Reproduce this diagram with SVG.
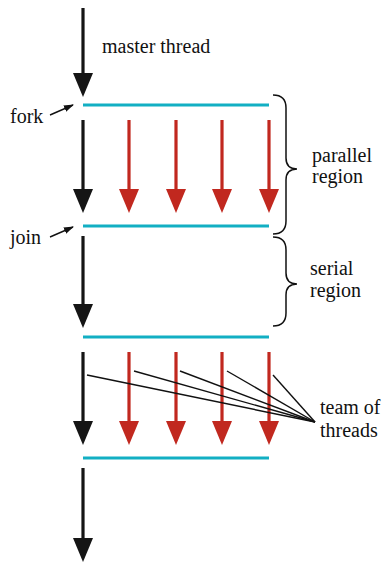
<svg xmlns="http://www.w3.org/2000/svg" width="385" height="563" viewBox="0 0 385 563">
<style>
.blk{stroke:#151515;stroke-width:3.2;fill:none}
.red{stroke:#c1281f;stroke-width:3.2;fill:none}
.cy{stroke:#12afc3;stroke-width:3.2;fill:none}
.thin{stroke:#111;stroke-width:1.4;fill:none}
.br{stroke:#111;stroke-width:1.5;fill:none}
</style>
<defs>
<marker id="hb" markerUnits="userSpaceOnUse" viewBox="0 0 24 20" refX="12" refY="10" markerWidth="24" markerHeight="20" orient="auto"><path d="M0,0 L24,10 L0,20 z" fill="#151515"/></marker>
<marker id="hr" markerUnits="userSpaceOnUse" viewBox="0 0 24 20" refX="12" refY="10" markerWidth="24" markerHeight="20" orient="auto"><path d="M0,0 L24,10 L0,20 z" fill="#c1281f"/></marker>
<marker id="hs" markerUnits="userSpaceOnUse" viewBox="0 0 10 7" refX="9" refY="3.5" markerWidth="10" markerHeight="7" orient="auto"><path d="M0,0 L10,3.5 L0,7 z" fill="#111"/></marker>
</defs>
<g id="connectors">
<line class="blk" x1="83" y1="8" x2="83" y2="85" marker-end="url(#hb)"/>
<line class="blk" x1="83" y1="120" x2="83" y2="201" marker-end="url(#hb)"/>
<line class="blk" x1="83" y1="236" x2="83" y2="316" marker-end="url(#hb)"/>
<line class="blk" x1="83" y1="352" x2="83" y2="433" marker-end="url(#hb)"/>
<line class="blk" x1="83" y1="468" x2="83" y2="550" marker-end="url(#hb)"/>
<line class="red" x1="129" y1="120" x2="129" y2="201" marker-end="url(#hr)"/>
<line class="red" x1="176" y1="120" x2="176" y2="201" marker-end="url(#hr)"/>
<line class="red" x1="222" y1="120" x2="222" y2="201" marker-end="url(#hr)"/>
<line class="red" x1="269" y1="120" x2="269" y2="201" marker-end="url(#hr)"/>
<line class="red" x1="129" y1="352" x2="129" y2="433" marker-end="url(#hr)"/>
<line class="red" x1="176" y1="352" x2="176" y2="433" marker-end="url(#hr)"/>
<line class="red" x1="222" y1="352" x2="222" y2="433" marker-end="url(#hr)"/>
<line class="red" x1="269" y1="352" x2="269" y2="433" marker-end="url(#hr)"/>
<line class="thin" x1="50" y1="115" x2="73" y2="105" marker-end="url(#hs)"/>
<line class="thin" x1="50" y1="237" x2="73" y2="227" marker-end="url(#hs)"/>
<line class="thin" x1="87" y1="375" x2="315" y2="422"/>
<line class="thin" x1="134" y1="371" x2="315" y2="422"/>
<line class="thin" x1="180" y1="371" x2="315" y2="422"/>
<line class="thin" x1="227" y1="371" x2="315" y2="422"/>
<line class="thin" x1="273" y1="375" x2="315" y2="422"/>
</g>
<g id="bars">
<line class="cy" x1="83" y1="105" x2="269" y2="105"/>
<line class="cy" x1="83" y1="226" x2="269" y2="226"/>
<line class="cy" x1="83" y1="337" x2="269" y2="337"/>
<line class="cy" x1="83" y1="458" x2="269" y2="458"/>
</g>
<g id="braces">
<path class="br" d="M273,95 Q286,95 286,108 L286,158 Q286,169 297,169 Q286,169 286,180 L286,221 Q286,234 273,234"/>
<path class="br" d="M273,237 Q286,237 286,250 L286,273 Q286,284 297,284 Q286,284 286,295 L286,313 Q286,326 273,326"/>
</g>
<g id="labels" font-family="Liberation Serif, Times New Roman, DejaVu Serif, serif" font-size="20" fill="#111">
<text x="102" y="53">master thread</text>
<text x="10" y="123">fork</text>
<text x="10" y="244">join</text>
<text x="312" y="162">parallel</text>
<text x="312" y="183">region</text>
<text x="310" y="275">serial</text>
<text x="310" y="297">region</text>
<text x="320" y="414">team of</text>
<text x="320" y="437">threads</text>
</g>
</svg>
